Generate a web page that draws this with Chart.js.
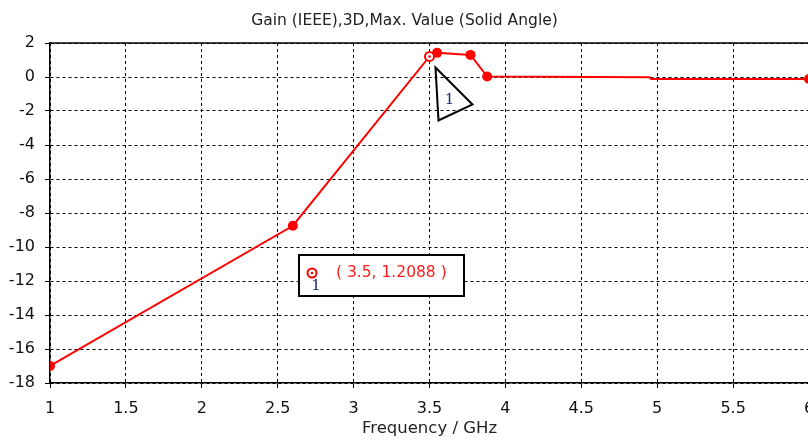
<!DOCTYPE html>
<html>
<head>
<meta charset="utf-8">
<script src="https://cdn.jsdelivr.net/npm/chart.js@4/dist/chart.umd.min.js"></script>
<style>
  body { margin: 0; background: #fff; overflow: hidden; }
  canvas { display: block; }
</style>
</head>
<body>
<canvas id="myChartGain" width="814" height="445"></canvas>
<script>
// Frequency (GHz) and gain (dB)
var frecuencias = [1, 2.6, 3.5, 3.55, 3.77, 3.88, 4.95, 4.96, 6];
var ganancias = [-17, -8.75, 1.2088, 1.42, 1.3, 0.03, -0.02, -0.12, -0.12];
var radios = [5, 5, 0, 5, 5, 5, 0, 0, 5];
var ticksX = [1, 1.5, 2, 2.5, 3, 3.5, 4, 4.5, 5, 5.5, 6];
var ticksY = [2, 0, -2, -4, -6, -8, -10, -12, -14, -16, -18];

// marker 1
var marcadorX = 3.5;
var marcadorY = 1.2088;
var marcadorTexto = "( " + marcadorX + ", " + marcadorY + " )";

var fuente = "'DejaVu Sans', sans-serif";

// Frame + marker annotations
var anotaciones = {
  id: "anotaciones",
  afterDatasetsDraw: function (chart) {
    var ctx = chart.ctx;
    var area = chart.chartArea;
    var sx = chart.scales.x, sy = chart.scales.y;

    ctx.save();
    ctx.strokeStyle = "#000";
    ctx.lineWidth = 1.5;
    ctx.beginPath();
    ctx.moveTo(area.left, area.top);
    ctx.lineTo(area.right + 5, area.top);
    ctx.stroke();

    // ring marker on the curve
    var px = sx.getPixelForValue(marcadorX);
    var py = sy.getPixelForValue(marcadorY);
    dibujarAnillo(ctx, px, py);

    // triangle label
    ctx.strokeStyle = "#000";
    ctx.lineWidth = 2;
    ctx.beginPath();
    ctx.moveTo(px + 6, py + 11);
    ctx.lineTo(px + 43, py + 48);
    ctx.lineTo(px + 9, py + 64);
    ctx.closePath();
    ctx.stroke();
    ctx.fillStyle = "#1a2a6c";
    ctx.font = "15px 'DejaVu Serif', serif";
    ctx.textAlign = "center";
    ctx.textBaseline = "middle";
    ctx.fillText("1", px + 20, py + 44);

    // value box
    var bx = area.left + 249, by = area.top + 212;
    ctx.fillStyle = "#fff";
    ctx.fillRect(bx, by, 165, 41);
    ctx.strokeStyle = "#000";
    ctx.lineWidth = 2;
    ctx.strokeRect(bx, by, 165, 41);
    dibujarAnillo(ctx, bx + 13, by + 18);
    ctx.fillStyle = "#1a2a6c";
    ctx.font = "15px 'DejaVu Serif', serif";
    ctx.fillText("1", bx + 17, by + 31);
    ctx.fillStyle = "#ff1a1a";
    ctx.font = "15.5px " + fuente;
    ctx.textAlign = "left";
    ctx.fillText(marcadorTexto, bx + 37, by + 18);
    ctx.restore();
  }
};

function dibujarAnillo(ctx, x, y) {
  ctx.save();
  ctx.beginPath();
  ctx.arc(x, y, 4.5, 0, Math.PI * 2);
  ctx.fillStyle = "#fff";
  ctx.fill();
  ctx.lineWidth = 2;
  ctx.strokeStyle = "#ff0000";
  ctx.stroke();
  ctx.beginPath();
  ctx.arc(x, y, 1.3, 0, Math.PI * 2);
  ctx.fillStyle = "#ff0000";
  ctx.fill();
  ctx.restore();
}

function etiqueta(valor) {
  return String(valor);
}

const ctxGain = document.getElementById("myChartGain").getContext("2d");

const myChartGain = new Chart(ctxGain, {
  type: "line",
  data: {
    datasets: [
      {
        label: "Gain",
        data: frecuencias.map(function (f, i) {
          return { x: f, y: ganancias[i] };
        }),
        borderColor: "#ff0000",
        backgroundColor: "#ff0000",
        borderWidth: 2,
        pointRadius: radios,
        pointBorderWidth: 0,
        tension: 0,
      },
    ],
  },
  plugins: [anotaciones],
  options: {
    responsive: false,
    animation: false,
    devicePixelRatio: 1,
    layout: { padding: { right: 5 } },
    plugins: {
      legend: { display: false },
      tooltip: { enabled: false },
      title: {
        display: true,
        text: "Gain (IEEE),3D,Max. Value (Solid Angle)",
        color: "#222",
        font: { family: fuente, size: 15.5, weight: "normal" },
        padding: { top: 11.2, bottom: 13.2 },
      },
    },
    scales: {
      x: {
        type: "linear",
        min: 1,
        max: 6,
        afterBuildTicks: function (s) {
          s.ticks = ticksX.map(function (v) { return { value: v }; });
        },
        afterFit: function (s) {
          s.height = 62;
          s.paddingLeft = 0;
          s.paddingRight = 0;
        },
        ticks: {
          color: "#111",
          font: { family: fuente, size: 16 },
          padding: 11,
          maxRotation: 0,
          callback: etiqueta,
        },
        grid: { color: "#000", lineWidth: 1, tickLength: 5, tickColor: "#000" },
        border: { display: true, color: "#000", width: 1.5, dash: [3, 3] },
        title: {
          display: true,
          text: "Frequency / GHz",
          color: "#222",
          font: { family: fuente, size: 16.5 },
          padding: { top: 2, bottom: 6.5 },
        },
      },
      y: {
        type: "linear",
        min: -18,
        max: 2,
        afterBuildTicks: function (s) {
          s.ticks = ticksY.map(function (v) { return { value: v }; });
        },
        afterFit: function (s) { s.width = 50; },
        ticks: {
          color: "#111",
          font: { family: fuente, size: 16 },
          padding: 10,
          callback: etiqueta,
        },
        grid: { color: "#000", lineWidth: 1, tickLength: 5, tickColor: "#000" },
        border: { display: true, color: "#000", width: 1.5, dash: [3, 3] },
      },
    },
  },
});
</script>
</body>
</html>
